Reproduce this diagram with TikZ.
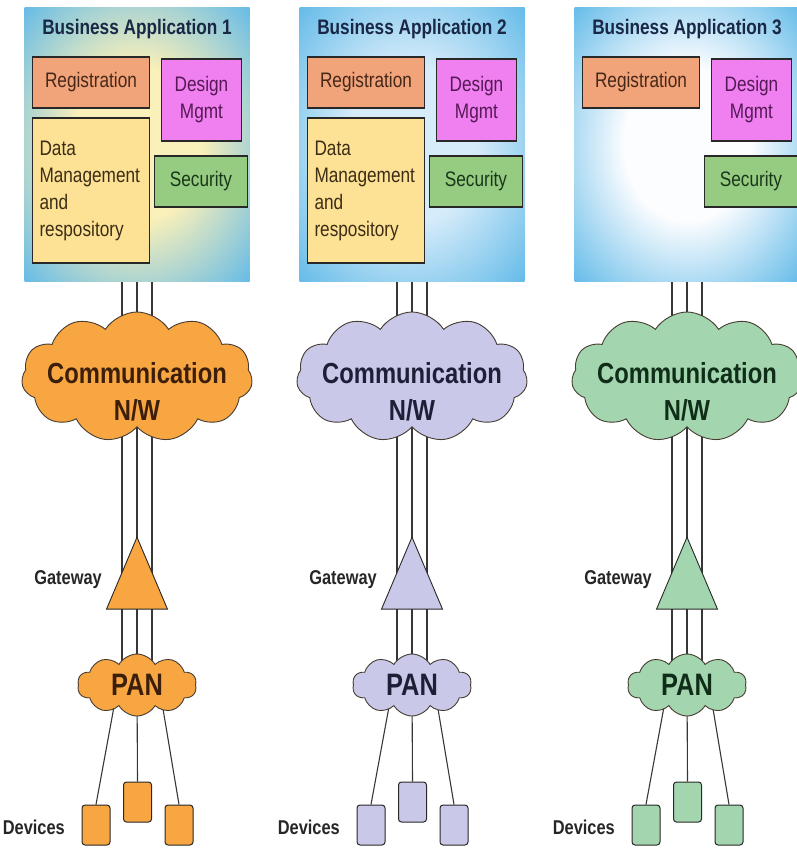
\documentclass[tikz,border=0pt]{standalone}
\usepackage{fontspec}
\setmainfont[FakeStretch=0.82]{Liberation Sans}
\usetikzlibrary{shapes.symbols,shapes.geometric}

% panel and part colours
\definecolor{boxblue}{RGB}{98,186,232}
\definecolor{glowinA}{RGB}{250,240,185}
\definecolor{glowinB}{RGB}{215,236,250}
\definecolor{glowinC}{RGB}{252,253,255}
\definecolor{regfill}{RGB}{241,163,122}
\definecolor{regtext}{RGB}{70,40,25}
\definecolor{desfill}{RGB}{240,128,240}
\definecolor{destext}{RGB}{85,25,85}
\definecolor{secfill}{RGB}{150,203,130}
\definecolor{sectext}{RGB}{25,55,25}
\definecolor{datfill}{RGB}{253,226,150}
\definecolor{dattext}{RGB}{60,45,20}
\definecolor{titletext}{RGB}{25,40,70}
\definecolor{partedge}{RGB}{40,40,40}
\definecolor{linegray}{RGB}{55,55,55}
\definecolor{cloudedge}{RGB}{70,60,50}
% network colours, one per stack
\definecolor{orangeA}{RGB}{247,166,66}
\definecolor{orangeT}{RGB}{60,30,10}
\definecolor{lavA}{RGB}{201,200,232}
\definecolor{lavT}{RGB}{30,30,55}
\definecolor{greenA}{RGB}{163,214,174}
\definecolor{greenT}{RGB}{15,45,25}

\pgfdeclareradialshading{glowA}{\pgfpoint{0bp}{0bp}}{color(0bp)=(glowinA); color(14bp)=(glowinA); color(36bp)=(boxblue); color(50bp)=(boxblue)}
\pgfdeclareradialshading{glowB}{\pgfpoint{0bp}{0bp}}{color(0bp)=(glowinB); color(14bp)=(glowinB); color(36bp)=(boxblue); color(50bp)=(boxblue)}
\pgfdeclareradialshading{glowC}{\pgfpoint{0bp}{0bp}}{color(0bp)=(glowinC); color(14bp)=(glowinC); color(36bp)=(boxblue); color(50bp)=(boxblue)}

\pgfdeclarelayer{back}
\pgfsetlayers{back,main}

\begin{document}
\begin{tikzpicture}[x=1pt,y=-1pt,
  wire/.style={draw=linegray, line width=1.1pt},
  appbox/.style={rectangle, minimum width=225pt, minimum height=274pt, inner sep=0pt},
  titletxt/.style={font=\fontsize{21}{24}\selectfont\bfseries, text=titletext, inner sep=0pt},
  part/.style={rectangle, draw=partedge, line width=1.1pt, inner sep=2pt,
    font=\fontsize{21}{27}\selectfont, align=center},
  netcloud/.style={cloud, draw=cloudedge, line width=0.9pt, cloud puffs=11,
    cloud puff arc=115, aspect=1.8, inner sep=0pt},
  nettxt/.style={align=center, inner sep=0pt, font=\fontsize{29}{37}\selectfont\bfseries},
  pancloud/.style={cloud, draw=cloudedge, line width=0.9pt, cloud puffs=10,
    cloud puff arc=120, aspect=1.9, inner sep=0pt,
    font=\fontsize{31}{34}\selectfont\bfseries},
  gate/.style={isosceles triangle, isosceles triangle stretches, shape border rotate=90,
    draw=partedge, line width=0.9pt, inner sep=0pt, minimum width=61pt, minimum height=72pt},
  device/.style={rectangle, rounded corners=3pt, draw=partedge, line width=1pt,
    minimum width=28pt, minimum height=40pt, inner sep=0pt},
  lbl/.style={font=\fontsize{20}{24}\selectfont\bfseries, text=black!85, inner sep=0pt},
]
\useasboundingbox (0,0) rectangle (797,849);

\foreach \c/\n/\cf/\ct/\gl in {137/1/orangeA/orangeT/glowA, 412/2/lavA/lavT/glowB, 687/3/greenA/greenT/glowC} {
  % business application panel
  \node[appbox, shading=\gl] (box\n) at (\c,144) {};
  \node[titletxt] (title\n) at (\c,29) {Business Application \n};
  \node[part, fill=regfill, text=regtext, minimum width=117pt, minimum height=51pt]
    (reg\n) at (\c-46,82.5) {Registration};
  \node[part, fill=desfill, text=destext, minimum width=80pt, minimum height=82pt]
    (des\n) at (\c+64.5,100) {Design\\Mgmt};
  \node[part, fill=secfill, text=sectext, minimum width=93pt, minimum height=51pt]
    (sec\n) at (\c+64,181.5) {Security};
  \ifnum\n<3
    \node[part, fill=datfill, text=dattext, minimum width=117pt, minimum height=145pt,
      text width=103pt, align=left] (dat\n) at (\c-46,190.5)
      {Data\\Management\\and\\respository};
  \fi

  % network stack
  \node[netcloud, fill=\cf, minimum width=231pt, minimum height=130pt]
    (comm\n) at (\c,377) {};
  \node[nettxt, text=\ct] (commtxt\n) at (\c,392) {Communication\\N/W};
  \node[gate, fill=\cf, anchor=apex] (gw\n) at (\c,536) {};
  \node[lbl, anchor=east] (gwlbl\n) at (\c-35,580) {Gateway};
  \node[pancloud, fill=\cf, text=\ct, minimum width=119pt, minimum height=62pt]
    (pan\n) at (\c,685) {PAN};

  % devices
  \node[device, fill=\cf] (devL\n) at (\c-41,825) {};
  \node[device, fill=\cf] (devM\n) at (\c+0.5,802) {};
  \node[device, fill=\cf] (devR\n) at (\c+42,825) {};
  \node[lbl, anchor=east] (devlbl\n) at (\c-72,827) {Devices};

  % links, drawn beneath the shapes
  \begin{pgfonlayer}{back}
    \draw[wire] ([xshift=-15pt]box\n.south) -- ([xshift=-15pt]pan\n.center);
    \draw[wire] (box\n.south) -- (pan\n.center);
    \draw[wire] ([xshift=15pt]box\n.south) -- ([xshift=15pt]pan\n.center);
    \draw[wire] ([xshift=-19pt]pan\n.center) -- (devL\n.north);
    \draw[wire] (pan\n.center) -- (devM\n.north);
    \draw[wire] ([xshift=22pt]pan\n.center) -- (devR\n.north);
  \end{pgfonlayer}
}
\end{tikzpicture}
\end{document}
